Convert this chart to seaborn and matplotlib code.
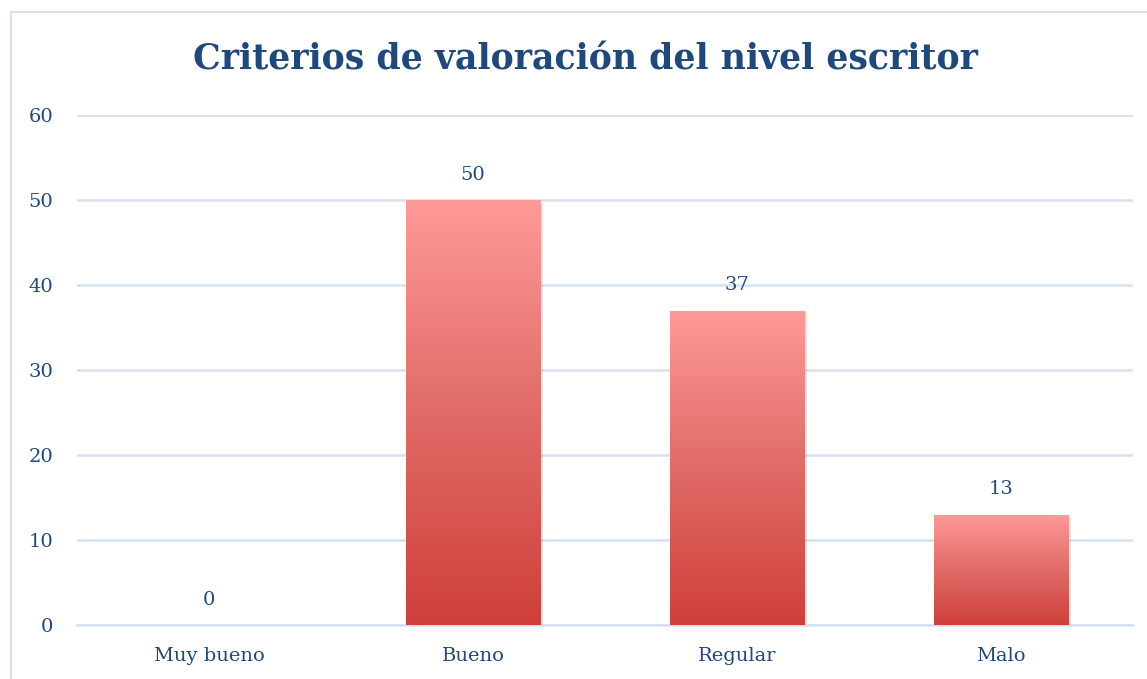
import numpy as np
import pandas as pd
import seaborn as sns
import matplotlib.pyplot as plt
from matplotlib.colors import LinearSegmentedColormap
from matplotlib.patches import Rectangle

## Data ##
categorias = ["Muy bueno", "Bueno", "Regular", "Malo"]
valores = [0, 50, 37, 13]
y_ticks = [0, 10, 20, 30, 40, 50, 60]

azul = "#1F497D"
gris_azul = "#D6E1F0"

sns.set_theme(style="white")
plt.rcParams['font.family'] = ['DejaVu Serif']

df = pd.DataFrame({"criterio": categorias, "valor": valores})

fig = plt.figure(figsize=(11.47, 6.79), dpi=100)
ax = fig.add_axes([77 / 1147, 1 - 625 / 679, (1133 - 77) / 1147, (625 - 115) / 679])

sns.barplot(data=df, x="criterio", y="valor", ax=ax, width=0.51, color="#E06060")

# gradient fill for each bar (light pink on top, red at the bottom)
grad = LinearSegmentedColormap.from_list("rojo", ["#CF3F3A", "#E06B67", "#FF9A98"])
gimg = np.linspace(0, 1, 256).reshape(-1, 1)
for p in ax.patches:
    x0, w, h = p.get_x(), p.get_width(), p.get_height()
    p.set_facecolor("none")
    p.set_edgecolor("none")
    if h <= 0:
        continue
    shadow = Rectangle((x0 + 0.01, -0.35), w, h, facecolor="#000000", alpha=0.10,
                       edgecolor="none", zorder=2)
    ax.add_patch(shadow)
    im = ax.imshow(gimg, cmap=grad, origin="lower", aspect="auto",
                   extent=[x0, x0 + w, 0, h], zorder=3)
    im.set_clip_path(p)

# data labels
for i, v in enumerate(valores):
    ax.annotate(str(v), (i, v), xytext=(0, 18), textcoords="offset points",
                ha="center", va="center", fontsize=14, color=azul)

ax.set_xlim(-0.5, len(categorias) - 0.5)
ax.set_ylim(0, 60)
ax.set_yticks(y_ticks)
ax.set_xticks(range(len(categorias)))
ax.set_xticks(np.arange(-0.5, len(categorias), 1), minor=True)
ax.tick_params(axis="x", which="major", length=0, pad=16, labelsize=14, labelcolor=azul)
ax.tick_params(axis="x", which="minor", length=7, width=1.5, color=gris_azul, direction="out")
ax.tick_params(axis="y", length=0, pad=17, labelsize=14, labelcolor=azul)
ax.set_xlabel("")
ax.set_ylabel("")

ax.yaxis.grid(True, color=gris_azul, linewidth=1.8)
ax.set_axisbelow(True)
for s in ["top", "right", "left"]:
    ax.spines[s].set_visible(False)
ax.spines["bottom"].set_color(gris_azul)
ax.spines["bottom"].set_linewidth(1.8)

fig.text(585 / 1147, 1 - 60 / 679, "Criterios de valoración del nivel escritor",
         ha="center", va="center", fontsize=25, fontweight="bold", color=azul)

# chart frame
fig.patches.append(Rectangle((11 / 1147, -0.05), 1.1, 1 - 12 / 679 + 0.05,
                             transform=fig.transFigure, fill=False,
                             edgecolor=gris_azul, linewidth=1.5))

fig.savefig("out.png", dpi=100)
